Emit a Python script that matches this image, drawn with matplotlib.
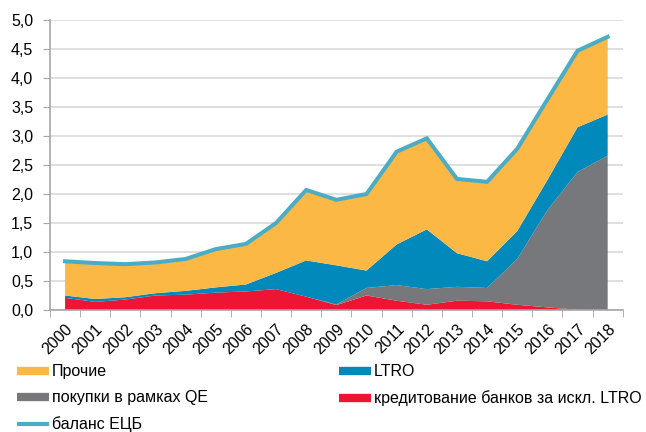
"""ECB balance sheet structure, 2000-2018 (stacked areas)."""

import matplotlib

matplotlib.use("Agg")
import matplotlib.pyplot as plt
from matplotlib.lines import Line2D
import numpy as np

plt.rcParams["font.family"] = ["Liberation Sans", "DejaVu Sans"]

years = [str(y) for y in range(2000, 2019)]

# values, trillion EUR
balance = [0.84, 0.81, 0.79, 0.82, 0.88, 1.05, 1.14, 1.50, 2.07, 1.90, 2.00,
           2.73, 2.96, 2.26, 2.21, 2.78, 3.63, 4.47, 4.71]
lending = [0.21, 0.14, 0.18, 0.25, 0.265, 0.30, 0.32, 0.36, 0.23, 0.085, 0.25,
           0.16, 0.09, 0.16, 0.15, 0.09, 0.045, 0.005, 0.0]
qe = [0, 0, 0, 0, 0, 0, 0, 0, 0, 0.01, 0.13,
      0.27, 0.27, 0.24, 0.23, 0.79, 1.675, 2.375, 2.66]
ltro = [0.04, 0.05, 0.04, 0.04, 0.065, 0.09, 0.12, 0.28, 0.625, 0.675, 0.30,
        0.70, 1.03, 0.58, 0.46, 0.48, 0.52, 0.77, 0.71]
others = [b - l - q - t for b, l, q, t in zip(balance, lending, qe, ltro)]

c_others = "#FBB844"
c_ltro = "#0089BA"
c_qe = "#77787B"
c_lend = "#EE1433"
c_line = "#4BACC6"

fs = 11.5

fig = plt.figure(figsize=(6.46, 4.32), dpi=100)
ax = fig.add_axes([0.0774, 0.2824, 0.8866, 0.6713])

x = np.arange(len(years))
ax.stackplot(x, lending, qe, ltro, others,
             colors=[c_lend, c_qe, c_ltro, c_others], linewidth=0)
ax.plot(x, balance, color=c_line, lw=2.9, solid_joinstyle="miter")

ax.set_xlim(-0.5, len(years) - 0.5)
ax.set_ylim(0, 5)
yt = np.arange(0, 5.01, 0.5)
ax.set_yticks(yt)
ax.set_yticklabels([f"{v:.1f}".replace(".", ",") for v in yt], fontsize=fs)
ax.yaxis.grid(True, color="#D9D9D9", lw=1.2)
ax.set_axisbelow(True)

ax.set_xticks(x)
ax.set_xticklabels(years, rotation=45, ha="right", rotation_mode="anchor", fontsize=fs)
ax.set_xticks(np.arange(-0.5, len(years), 1), minor=True)
ax.tick_params(axis="x", which="major", length=0, pad=8)
ax.tick_params(axis="x", which="minor", length=5, color="#A6A6A6", direction="out")
ax.tick_params(axis="y", length=5, color="#A6A6A6", direction="out", pad=7)

for s in ["top", "right"]:
    ax.spines[s].set_visible(False)
for s in ["left", "bottom"]:
    ax.spines[s].set_color("#A6A6A6")
    ax.spines[s].set_linewidth(1.2)

handles = [
    Line2D([], [], color=c_others, lw=6, solid_capstyle="butt"),
    Line2D([], [], color=c_qe, lw=6, solid_capstyle="butt"),
    Line2D([], [], color=c_line, lw=3, solid_capstyle="butt"),
    Line2D([], [], color=c_ltro, lw=6, solid_capstyle="butt"),
    Line2D([], [], color=c_lend, lw=6, solid_capstyle="butt"),
]
labels = ["Прочие", "покупки в рамках QE", "баланс ЕЦБ",
          "LTRO", "кредитование банков за искл. LTRO"]
fig.legend(handles, labels, ncol=2, loc="upper left", bbox_to_anchor=(0.026, 0.157),
           frameon=False, fontsize=fs, handlelength=2.0, handletextpad=0.19,
           columnspacing=8.2, labelspacing=0.7, borderpad=0, borderaxespad=0)

fig.savefig("out.png", dpi=100)
